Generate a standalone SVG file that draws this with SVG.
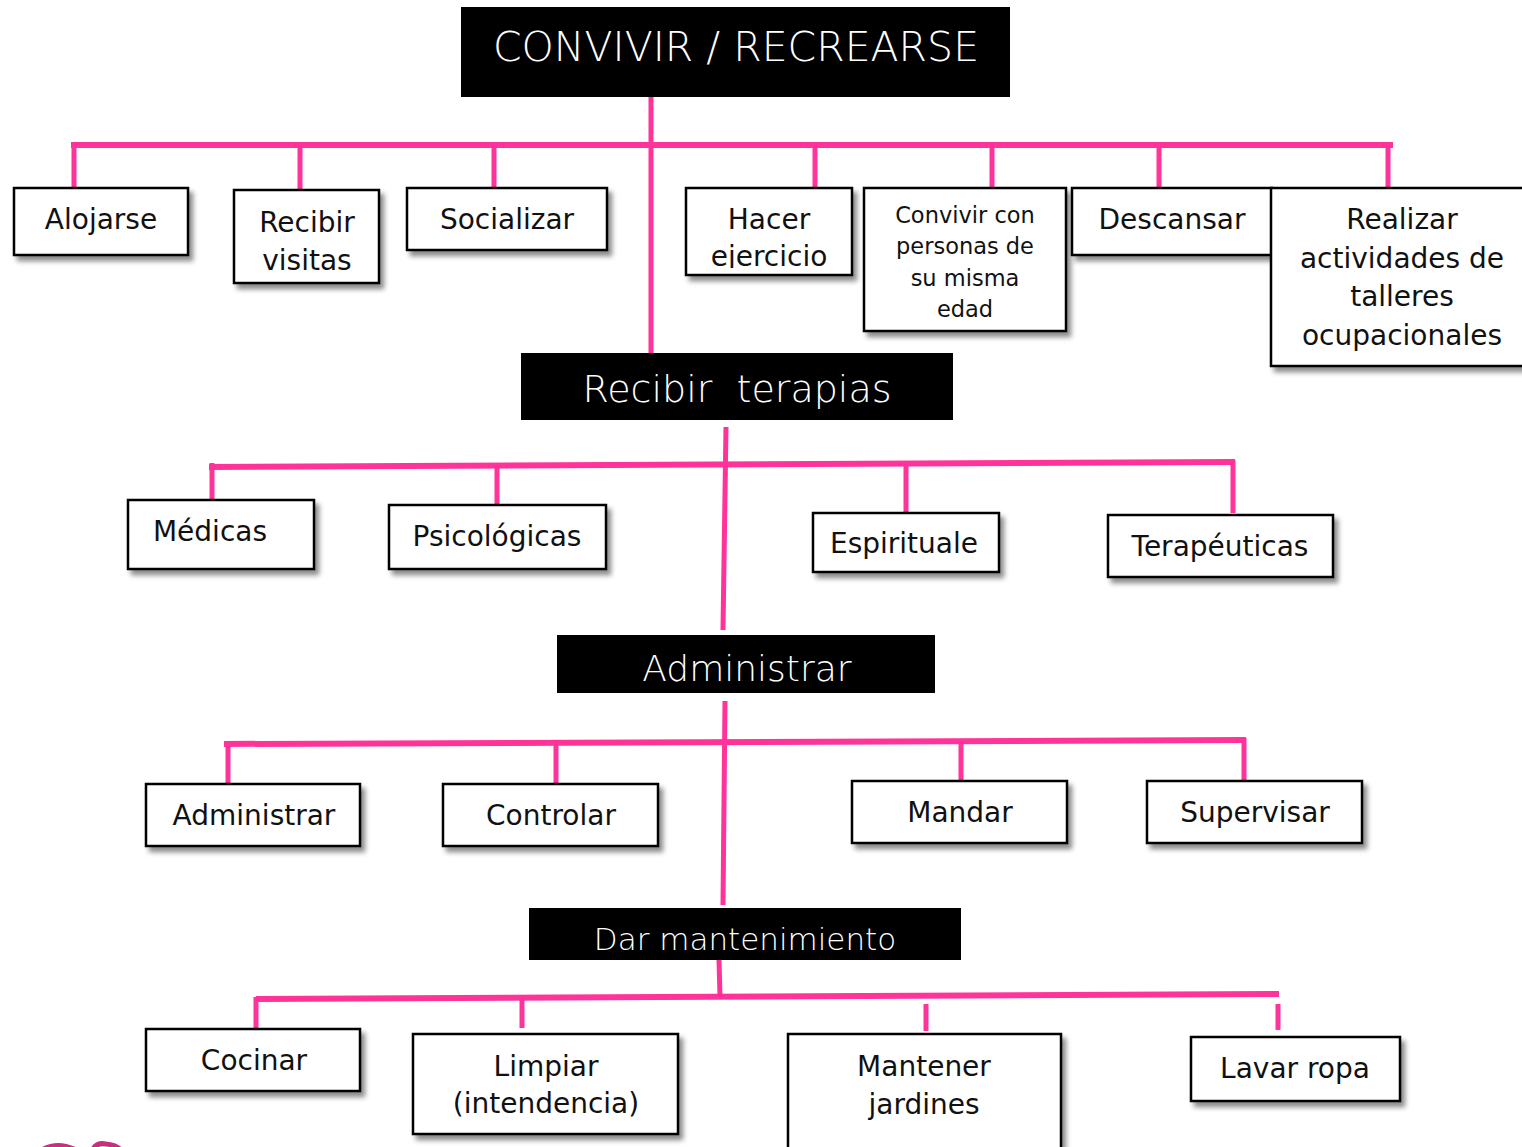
<svg xmlns="http://www.w3.org/2000/svg" width="1522" height="1147" viewBox="0 0 1522 1147">
<defs>
<filter id="sh" x="-10%" y="-10%" width="130%" height="140%">
<feDropShadow dx="4" dy="5" stdDeviation="2.5" flood-color="#000" flood-opacity="0.45"/>
</filter>
<clipPath id="clipHacer"><rect x="686" y="188" width="166" height="80"/></clipPath>
</defs>
<style>
.box{fill:#fff;stroke:#000;stroke-width:2.5;filter:url(#sh)}
.hdr{fill:#000}
.t{font-family:"DejaVu Sans",sans-serif;font-size:28px;fill:#111;text-anchor:middle}
.ts{font-family:"DejaVu Sans",sans-serif;font-size:22.5px;fill:#111;text-anchor:middle}
.th{font-family:"DejaVu Sans",sans-serif;fill:#fff;text-anchor:middle;font-weight:200}
.c{stroke:#ff3399;fill:none;stroke-width:5}
.cb{stroke:#ff3399;fill:none;stroke-width:6}
</style>
<rect width="1522" height="1147" fill="#fff"/>

<g id="connectors">
<line class="c" x1="651" y1="97" x2="651" y2="357"/>
<line class="cb" x1="71" y1="145" x2="1393" y2="145"/>
<line class="c" x1="74" y1="143" x2="74" y2="188"/>
<line class="c" x1="300" y1="143" x2="300" y2="190"/>
<line class="c" x1="494" y1="143" x2="494" y2="193"/>
<line class="c" x1="815" y1="143" x2="815" y2="190"/>
<line class="c" x1="992" y1="143" x2="992" y2="193"/>
<line class="c" x1="1159" y1="143" x2="1159" y2="193"/>
<line class="c" x1="1388" y1="143" x2="1388" y2="190"/>

<line class="c" x1="726" y1="427" x2="723" y2="630"/>
<line class="cb" x1="209" y1="467" x2="1235" y2="462"/>
<line class="c" x1="212" y1="463" x2="212" y2="508"/>
<line class="c" x1="497" y1="464" x2="497" y2="509"/>
<line class="c" x1="906" y1="463" x2="906" y2="513"/>
<line class="c" x1="1233" y1="460" x2="1233" y2="513"/>

<line class="c" x1="725" y1="701" x2="723" y2="905"/>
<line class="cb" x1="224" y1="744" x2="1246" y2="740"/>
<line class="c" x1="228" y1="742" x2="228" y2="791"/>
<line class="c" x1="556" y1="742" x2="556" y2="787"/>
<line class="c" x1="961" y1="741" x2="961" y2="785"/>
<line class="c" x1="1244" y1="738" x2="1244" y2="784"/>

<line class="c" x1="719" y1="960" x2="720" y2="996"/>
<line class="cb" x1="256" y1="999" x2="1279" y2="994"/>
<line class="c" x1="256" y1="997" x2="256" y2="1029"/>
<line class="c" x1="522" y1="997" x2="522" y2="1028"/>
<line class="c" x1="926" y1="1004" x2="926" y2="1031"/>
<line class="c" x1="1278" y1="1004" x2="1278" y2="1030"/>
</g>

<g id="n-convivir">
<rect class="hdr" x="461" y="7" width="549" height="90"/>
<text class="th" x="736" y="61" font-size="41">CONVIVIR / RECREARSE</text>
</g>
<g id="n-alojarse">
<rect class="box" x="14" y="188" width="174" height="67"/>
<text class="t" x="101" y="229">Alojarse</text>
</g>
<g id="n-visitas">
<rect class="box" x="234" y="190" width="145" height="93"/>
<text class="t" x="307" y="232">Recibir</text>
<text class="t" x="307" y="270">visitas</text>
</g>
<g id="n-socializar">
<rect class="box" x="407" y="188" width="200" height="62"/>
<text class="t" x="507" y="229">Socializar</text>
</g>
<g id="n-hacer">
<rect class="box" x="686" y="188" width="166" height="87"/>
<text class="t" x="769" y="229">Hacer</text>
<text class="t" x="769" y="266" clip-path="url(#clipHacer)">ejercicio</text>
</g>
<g id="n-convivir-con">
<rect class="box" x="864" y="188" width="202" height="143"/>
<text class="ts" x="965" y="223">Convivir con</text>
<text class="ts" x="965" y="254">personas de</text>
<text class="ts" x="965" y="286">su misma</text>
<text class="ts" x="965" y="317">edad</text>
</g>
<g id="n-descansar">
<rect class="box" x="1072" y="188" width="200" height="67"/>
<text class="t" x="1172" y="229">Descansar</text>
</g>
<g id="n-realizar">
<rect class="box" x="1271" y="188" width="262" height="178"/>
<text class="t" x="1402" y="229">Realizar</text>
<text class="t" x="1402" y="268">actividades de</text>
<text class="t" x="1402" y="306">talleres</text>
<text class="t" x="1402" y="345">ocupacionales</text>
</g>

<g id="n-terapias">
<rect class="hdr" x="521" y="353" width="432" height="67"/>
<text class="th" x="737" y="402" font-size="38" xml:space="preserve">Recibir  terapias</text>
</g>
<g id="n-medicas">
<rect class="box" x="128" y="500" width="186" height="69"/>
<text class="t" x="210" y="541">Médicas</text>
</g>
<g id="n-psico">
<rect class="box" x="389" y="505" width="217" height="64"/>
<text class="t" x="497" y="546">Psicológicas</text>
</g>
<g id="n-espiritual">
<rect class="box" x="813" y="513" width="186" height="59"/>
<text class="t" x="904" y="553">Espirituale</text>
</g>
<g id="n-terapeuticas">
<rect class="box" x="1108" y="515" width="225" height="62"/>
<text class="t" x="1220" y="556">Terapéuticas</text>
</g>

<g id="n-administrar-h">
<rect class="hdr" x="557" y="635" width="378" height="58"/>
<text class="th" x="747" y="681" font-size="36">Administrar</text>
</g>
<g id="n-administrar">
<rect class="box" x="146" y="784" width="214" height="62"/>
<text class="t" x="254" y="825">Administrar</text>
</g>
<g id="n-controlar">
<rect class="box" x="443" y="784" width="215" height="62"/>
<text class="t" x="551" y="825">Controlar</text>
</g>
<g id="n-mandar">
<rect class="box" x="852" y="781" width="215" height="62"/>
<text class="t" x="960" y="822">Mandar</text>
</g>
<g id="n-supervisar">
<rect class="box" x="1147" y="781" width="215" height="62"/>
<text class="t" x="1255" y="822">Supervisar</text>
</g>

<g id="n-mantenimiento">
<rect class="hdr" x="529" y="908" width="432" height="52"/>
<text class="th" x="745" y="950" font-size="31">Dar mantenimiento</text>
</g>
<g id="n-cocinar">
<rect class="box" x="146" y="1029" width="214" height="62"/>
<text class="t" x="254" y="1070">Cocinar</text>
</g>
<g id="n-limpiar">
<rect class="box" x="413" y="1034" width="265" height="100"/>
<text class="t" x="546" y="1076">Limpiar</text>
<text class="t" x="546" y="1113">(intendencia)</text>
</g>
<g id="n-jardines">
<rect class="box" x="788" y="1034" width="273" height="130"/>
<text class="t" x="924" y="1076">Mantener</text>
<text class="t" x="924" y="1114">jardines</text>
</g>
<g id="n-lavar">
<rect class="box" x="1191" y="1037" width="209" height="64"/>
<text class="t" x="1295" y="1078">Lavar ropa</text>
</g>

<path d="M40 1151 Q56 1141 74 1149 M92 1151 Q96 1142 106 1144 Q117 1145 122 1151" stroke="#c8307f" stroke-width="5" fill="none"/>
</svg>
